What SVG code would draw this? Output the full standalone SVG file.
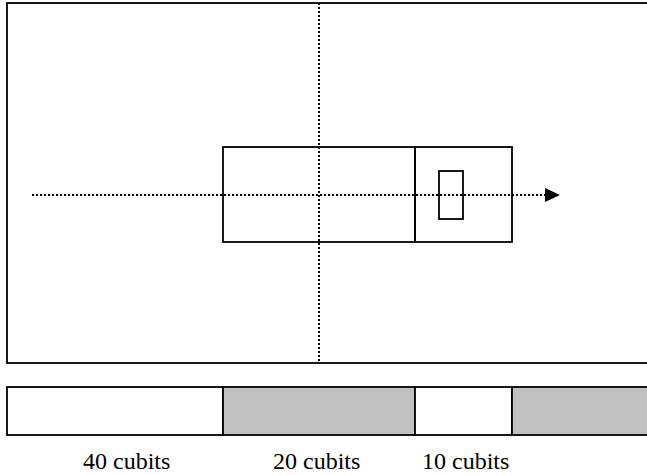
<svg xmlns="http://www.w3.org/2000/svg" width="647" height="475" viewBox="0 0 647 475">
<defs>
<style>
.box{fill:none;stroke:#000;stroke-width:1.8}
.bar{stroke:#000;stroke-width:1.8}
.dot{fill:none;stroke:#000;stroke-width:2;stroke-dasharray:2 2}
.lbl{font-size:24px;fill:#000}
</style>
<marker id="arr" markerWidth="16" markerHeight="14" refX="15" refY="7" orient="auto" markerUnits="userSpaceOnUse">
<path d="M0,0 L15,7 L0,14 Z" fill="#000"/>
</marker>
</defs>
<rect width="647" height="475" fill="#fff"/>
<g id="frame">
<rect class="box" x="7" y="3" width="660" height="360"/>
</g>
<g id="hull">
<rect class="box" x="223" y="147" width="192" height="95"/>
</g>
<g id="stern">
<rect class="box" x="415" y="147" width="97" height="95"/>
</g>
<g id="window">
<rect class="box" x="439" y="171" width="24" height="48"/>
</g>
<g id="connectors">
<line class="dot" x1="319" y1="3" x2="319" y2="363"/>
<line class="dot" x1="32" y1="195" x2="560" y2="195" marker-end="url(#arr)"/>
</g>
<g id="scale">
<rect class="bar" x="7" y="387" width="216" height="48" fill="#fff"/>
<rect class="bar" x="223" y="387" width="192" height="48" fill="#c0c0c0"/>
<rect class="bar" x="415" y="387" width="97" height="48" fill="#fff"/>
<rect class="bar" x="512" y="387" width="160" height="48" fill="#c0c0c0"/>
</g>
<g id="labels" font-family="'Liberation Serif', 'DejaVu Serif', serif">
<text class="lbl" x="83" y="469">40 cubits</text>
<text class="lbl" x="273" y="469">20 cubits</text>
<text class="lbl" x="422" y="469">10 cubits</text>
</g>
</svg>
